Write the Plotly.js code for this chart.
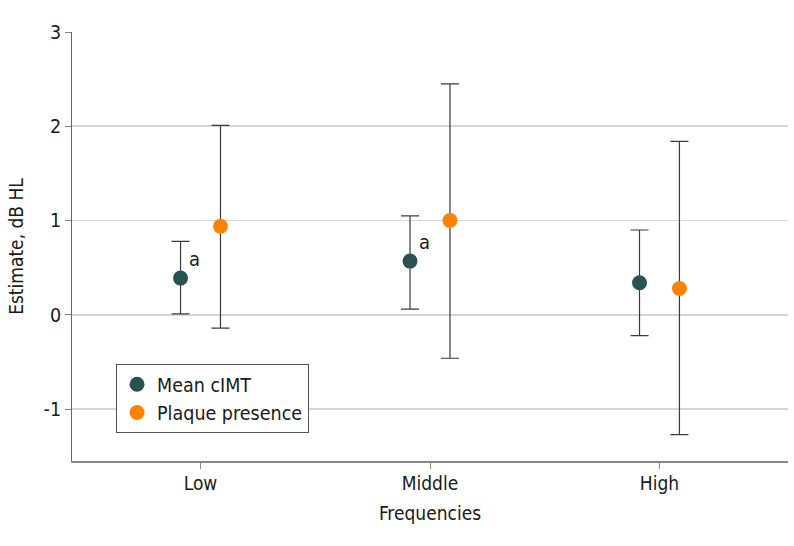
<!DOCTYPE html>
<html>
<head>
<meta charset="utf-8">
<script src="https://cdn.plot.ly/plotly-3.0.1.min.js"></script>
<style>html,body{margin:0;padding:0;background:#fff;}#chart{width:794px;height:546px;}</style>
</head>
<body>
<div id="chart"></div>
<script>
const categories = ["Low", "Middle", "High"];
const seriesNames = ["Mean cIMT", "Plaque presence"];
const cimtEstimate = [0.39, 0.57, 0.34];
const cimtLower = [0.01, 0.06, -0.22];
const cimtUpper = [0.78, 1.05, 0.90];
const plaqueEstimate = [0.94, 1.00, 0.28];
const plaqueLower = [-0.14, -0.46, -1.27];
const plaqueUpper = [2.01, 2.45, 1.84];
const cimtFlags = ["a", "a", ""];
const yTickVals = [-1, 0, 1, 2, 3];

const FONT = '"DejaVu Sans Condensed", "Liberation Sans Narrow", "DejaVu Sans", sans-serif';

function mkTrace(name, est, lo, hi, color, group) {
  return {
    type: "scatter", mode: "markers", name: name,
    x: categories, y: est, offsetgroup: group,
    marker: {color: color, size: 15},
    error_y: {
      type: "data", symmetric: false,
      array: est.map((v, i) => hi[i] - v),
      arrayminus: est.map((v, i) => v - lo[i]),
      color: "#3a3a3a", thickness: 1.2, width: 9
    },
    hoverinfo: "x+y"
  };
}

const traces = [
  mkTrace(seriesNames[0], cimtEstimate, cimtLower, cimtUpper, "#2b5252", "a"),
  mkTrace(seriesNames[1], plaqueEstimate, plaqueLower, plaqueUpper, "#ff8200", "b")
];

const annotations = [];
categories.forEach((c, i) => {
  if (cimtFlags[i]) {
    annotations.push({
      x: c, y: cimtEstimate[i], xref: "x", yref: "y",
      text: cimtFlags[i], showarrow: false,
      font: {family: FONT, size: 20, color: "#1a1a1a"},
      xshift: -6, yshift: 19
    });
  }
});

const layout = {
  width: 794, height: 546,
  margin: {l: 72, r: 6, t: 32, b: 85},
  paper_bgcolor: "#fff", plot_bgcolor: "#fff",
  font: {family: FONT, size: 19, color: "#1a1a1a"},
  scattermode: "group", scattergap: 0.652,
  showlegend: true,
  legend: {
    x: 0.0615, y: 0.226, xanchor: "left", yanchor: "top",
    bordercolor: "#555", borderwidth: 1, bgcolor: "#fff",
    font: {family: FONT, size: 19.5, color: "#1a1a1a"},
    tracegroupgap: 0
  },
  xaxis: {
    type: "category", range: [-0.56, 2.56],
    showgrid: false, zeroline: false,
    showline: true, linecolor: "#888", linewidth: 2,
    ticks: "outside", ticklen: 6, tickcolor: "#888", tickwidth: 1,
    ticklabelstandoff: -2,
    tickfont: {family: FONT, size: 19, color: "#1a1a1a"},
    title: {text: "Frequencies", font: {family: FONT, size: 19, color: "#1a1a1a"}, standoff: 14}
  },
  yaxis: {
    range: [-1.55, 3], tickvals: yTickVals,
    ticktext: yTickVals.map(String),
    showgrid: true, gridcolor: "#d6d6d6", gridwidth: 1.6,
    zeroline: false,
    showline: true, linecolor: "#666", linewidth: 1,
    ticks: "outside", ticklen: 6, tickcolor: "#888", tickwidth: 1,
    tickfont: {family: FONT, size: 19.5, color: "#1a1a1a"},
    title: {text: "Estimate, dB HL", font: {family: FONT, size: 19, color: "#1a1a1a"}, standoff: 14}
  },
  annotations: annotations
};

Plotly.newPlot("chart", traces, layout, {displayModeBar: false, staticPlot: true});
</script>
</body>
</html>
